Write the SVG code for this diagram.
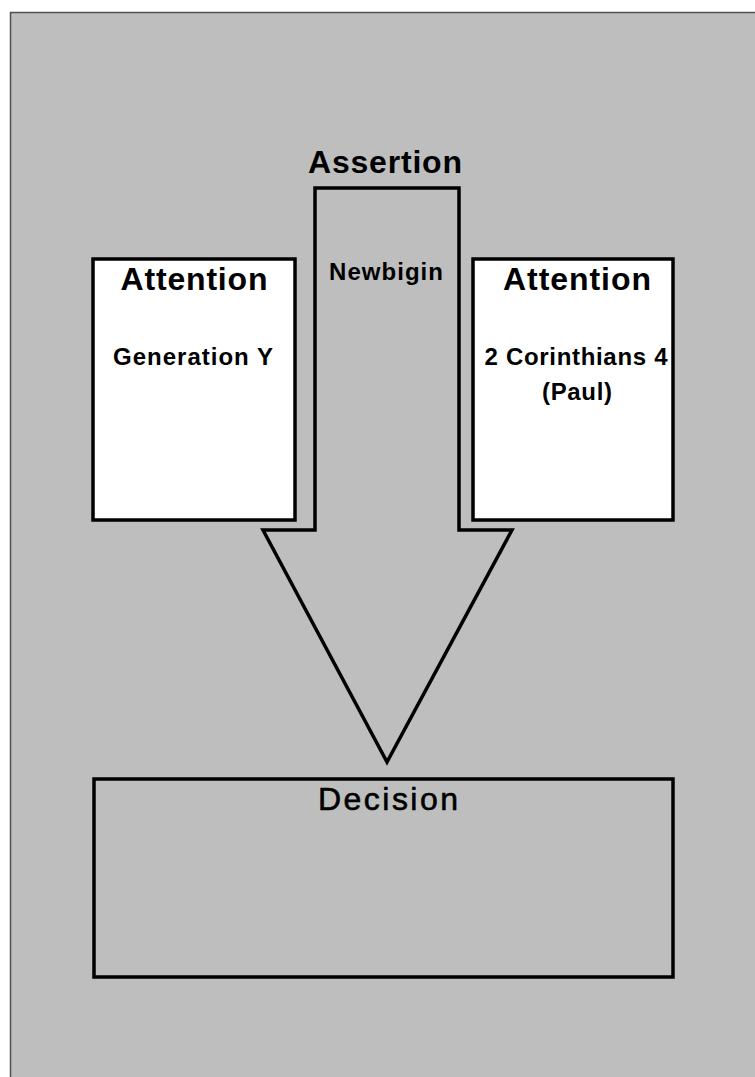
<svg xmlns="http://www.w3.org/2000/svg" width="755" height="1077" viewBox="0 0 755 1077">
<style>
.box{fill:#ffffff;stroke:#000;stroke-width:3.5}
.shape{fill:#bebebe;stroke:#000;stroke-width:3.5;stroke-linejoin:miter}
.t{font-family:"Liberation Sans",Arial,sans-serif;font-weight:bold;fill:#000;text-anchor:middle}
.h{font-size:32px}
.s{font-size:24px}
.d{font-size:32px;font-weight:normal;stroke:#000;stroke-width:0.6}
</style>
<rect x="0" y="0" width="755" height="1077" fill="#ffffff"/>
<rect x="10.5" y="12.5" width="760" height="1080" fill="#bebebe" stroke="#505050" stroke-width="1.5"/>
<g id="connectors">
<polygon id="assertion-arrow" class="shape" points="315,188 459,188 459,530 512,530 387,762 263,530 315,530"/>
<text class="t h" x="385" y="173" textLength="154" lengthAdjust="spacing">Assertion</text>
<text class="t s" x="386" y="280" textLength="114" lengthAdjust="spacing">Newbigin</text>
</g>
<g id="attention-left">
<rect class="box" x="93" y="259" width="202" height="261"/>
<text class="t h" x="194" y="290" textLength="147" lengthAdjust="spacing">Attention</text>
<text class="t s" x="193" y="365" textLength="160" lengthAdjust="spacing">Generation Y</text>
</g>
<g id="attention-right">
<rect class="box" x="473" y="259" width="200" height="261"/>
<text class="t h" x="577" y="290" textLength="148" lengthAdjust="spacing">Attention</text>
<text class="t s" x="576" y="365" textLength="183" lengthAdjust="spacing">2 Corinthians 4</text>
<text class="t s" x="577" y="400" textLength="70" lengthAdjust="spacing">(Paul)</text>
</g>
<g id="decision">
<rect class="shape" x="94" y="779" width="579" height="198"/>
<text class="t d" x="388" y="810" textLength="140" lengthAdjust="spacing">Decision</text>
</g>
</svg>
